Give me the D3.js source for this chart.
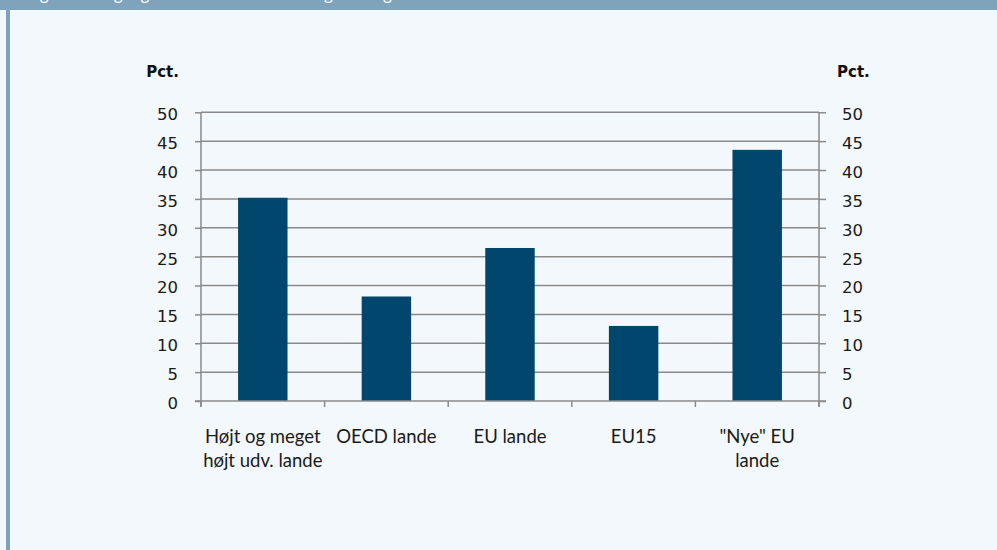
<!DOCTYPE html>
<html><head><meta charset="utf-8">
<script src="https://cdn.jsdelivr.net/npm/d3@7"></script>
<style>html,body{margin:0;padding:0;background:#f3f8fc;}svg{display:block;}</style>
</head><body>
<script>
const categories = [["Højt og meget","højt udv. lande"],["OECD lande"],["EU lande"],["EU15"],["\"Nye\" EU","lande"]];
const values = [35.2, 18.1, 26.5, 13.0, 43.5];
const yTicks = [0,5,10,15,20,25,30,35,40,45,50];
const axisTitle = "Pct.";
const headerTitle = "Figur 3.4 Tilgang af indvandrere med lang videregående uddannelse";

const W = 997, H = 550;
const svg = d3.select("body").append("svg").attr("width", W).attr("height", H);
svg.append("rect").attr("width", W).attr("height", H).attr("fill", "#f3f8fc");
svg.append("rect").attr("x",0).attr("y",0).attr("width",W).attr("height",10).attr("fill","#7ea3ba");
svg.append("rect").attr("x",6).attr("y",10).attr("width",4).attr("height",H-10).attr("fill","#7ea3ba");
svg.append("text").attr("x",26).attr("y",-0.5).attr("fill","#fff")
  .style("font-family","Lato").style("font-size","17px").text(headerTitle);

const ids = categories.map((c,i)=>i);
const x = d3.scaleBand().domain(ids).range([201,819]).paddingInner(0.6).paddingOuter(0.3);
const y = d3.scaleLinear().domain([0,50]).range([401,112.3]);
const gray = "#8a8a8a";
const numFont = "DejaVu Sans";
const labFont = "Lato";

// gridlines
svg.append("g").selectAll("line").data(yTicks.filter(d=>d>0)).join("line")
  .attr("x1",201).attr("x2",819).attr("y1",d=>y(d)).attr("y2",d=>y(d))
  .attr("stroke",gray).attr("stroke-width",1.5);

// bars
svg.append("g").selectAll("rect").data(values).join("rect")
  .attr("x",(d,i)=>x(i)).attr("width",x.bandwidth())
  .attr("y",d=>y(d)).attr("height",d=>y(0)-y(d))
  .attr("fill","#01466d");

// left axis
const gl = svg.append("g").attr("transform","translate(201,0)")
  .call(d3.axisLeft(y).tickValues(yTicks).tickSizeInner(6).tickSizeOuter(0).tickPadding(17));
// right axis
const gr = svg.append("g").attr("transform","translate(819,0)")
  .call(d3.axisRight(y).tickValues(yTicks).tickSizeInner(7).tickSizeOuter(0).tickPadding(16));
[gl,gr].forEach(g=>{
  g.select(".domain").remove();
  g.selectAll("line").attr("stroke",gray).attr("stroke-width",1.5);
  g.selectAll("text").attr("fill","#1a1a1a").style("font-family",numFont).style("font-size","16.5px").attr("dy","0.45em");
});
// vertical axis lines
svg.append("line").attr("x1",201).attr("x2",201).attr("y1",y(50)).attr("y2",407).attr("stroke",gray).attr("stroke-width",1.5);
svg.append("line").attr("x1",819).attr("x2",819).attr("y1",y(50)).attr("y2",407).attr("stroke",gray).attr("stroke-width",1.5);
// x axis baseline
svg.append("line").attr("x1",195).attr("x2",826).attr("y1",y(0)).attr("y2",y(0)).attr("stroke",gray).attr("stroke-width",1.5);
// x ticks at band boundaries
const bounds = ids.map(i=>x(i)-x.step()*x.paddingInner()/2);
bounds[0] = 201; bounds.push(819);
svg.append("g").selectAll("line").data(bounds).join("line")
  .attr("x1",d=>d).attr("x2",d=>d).attr("y1",y(0)).attr("y2",407)
  .attr("stroke",gray).attr("stroke-width",1.5);

// x labels
const xl = svg.append("g").selectAll("text").data(categories).join("text")
  .attr("text-anchor","middle").attr("fill","#1a1a1a")
  .style("font-family",labFont).style("font-size","18.5px");
xl.each(function(lines,i){
  d3.select(this).selectAll("tspan").data(lines).join("tspan")
    .attr("x",x(i)+x.bandwidth()/2).attr("y",(d,j)=>443.3+j*23.4).text(d=>d);
});

// axis titles
svg.append("text").attr("x",179).attr("y",77).attr("text-anchor","end")
  .style("font-family",numFont).style("font-size","15px").style("font-weight","bold").attr("fill","#111").text(axisTitle);
svg.append("text").attr("x",837).attr("y",77).attr("text-anchor","start")
  .style("font-family",numFont).style("font-size","15px").style("font-weight","bold").attr("fill","#111").text(axisTitle);
</script>
</body></html>
